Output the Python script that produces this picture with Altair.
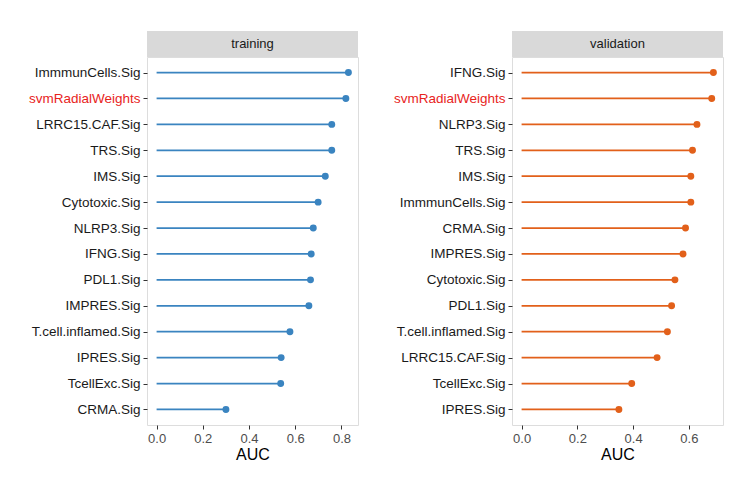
import altair as alt
import pandas as pd

train_sig = ["ImmmunCells.Sig", "svmRadialWeights", "LRRC15.CAF.Sig", "TRS.Sig", "IMS.Sig",
             "Cytotoxic.Sig", "NLRP3.Sig", "IFNG.Sig", "PDL1.Sig", "IMPRES.Sig",
             "T.cell.inflamed.Sig", "IPRES.Sig", "TcellExc.Sig", "CRMA.Sig"]
train_auc = [0.830, 0.819, 0.758, 0.758, 0.730, 0.699, 0.678, 0.669, 0.666, 0.659,
             0.577, 0.539, 0.537, 0.300]

valid_sig = ["IFNG.Sig", "svmRadialWeights", "NLRP3.Sig", "TRS.Sig", "IMS.Sig",
             "ImmmunCells.Sig", "CRMA.Sig", "IMPRES.Sig", "Cytotoxic.Sig", "PDL1.Sig",
             "T.cell.inflamed.Sig", "LRRC15.CAF.Sig", "TcellExc.Sig", "IPRES.Sig"]
valid_auc = [0.688, 0.682, 0.629, 0.613, 0.607, 0.607, 0.588, 0.579, 0.550, 0.538,
             0.523, 0.486, 0.395, 0.349]

train_ticks = [0.0, 0.2, 0.4, 0.6, 0.8]
valid_ticks = [0.0, 0.2, 0.4, 0.6]

W = 211
H = 368
STRIP = 26
FONT = "Liberation Sans"


def panel(sigs, aucs, ticks, color, label):
    df = pd.DataFrame({"sig": sigs, "auc": aucs, "zero": [0.0] * len(sigs)})
    hi = max(aucs)
    pad = hi * 0.05
    xs = alt.Scale(domain=[-pad, hi + pad], nice=False, zero=False)
    ys = alt.Scale(type="point", padding=0.6)
    xaxis = alt.Axis(values=ticks, format=".1f", title="AUC", grid=False, domain=False,
                     tickColor="#333333", tickSize=4, labelColor="#4D4D4D",
                     labelFontSize=13, labelFont=FONT, labelPadding=3,
                     titleFont=FONT, titleFontSize=16, titleFontWeight="normal",
                     titleColor="#000000", titlePadding=1)
    yaxis = alt.Axis(title=None, grid=False, domain=False, tickColor="#333333", tickSize=4,
                     labelFontSize=13.5, labelFont=FONT, labelPadding=3,
                     labelColor={"condition": {"test": "datum.value == 'svmRadialWeights'",
                                               "value": "#E8231C"},
                                 "value": "#1A1A1A"})
    y = alt.Y("sig:N", sort=sigs, scale=ys, axis=yaxis)
    base = alt.Chart(df)
    rule = base.mark_rule(color=color, strokeWidth=1.8).encode(
        x=alt.X("zero:Q", scale=xs, axis=xaxis), x2="auc:Q", y=y)
    pts = base.mark_circle(color=color, size=48, opacity=1).encode(
        x=alt.X("auc:Q", scale=xs, axis=xaxis), y=y)
    sdf = pd.DataFrame({"t": [label]})
    strip = alt.Chart(sdf).mark_rect(fill="#D9D9D9").encode(
        x=alt.value(0), x2=alt.value(W), y=alt.value(-STRIP), y2=alt.value(0))
    stext = alt.Chart(sdf).mark_text(font=FONT, fontSize=13, color="#1A1A1A",
                                     baseline="middle", align="center").encode(
        text="t:N", x=alt.value(W / 2), y=alt.value(-STRIP / 2))
    return alt.layer(strip, stext, rule, pts).properties(width=W, height=H)


left = panel(train_sig, train_auc, train_ticks, "#3A84C0", "training")
right = panel(valid_sig, valid_auc, valid_ticks, "#E2601A", "validation")

chart = alt.hconcat(left, right, spacing=33).resolve_scale(
    x="independent", y="independent"
).properties(
    padding={"left": 19, "top": 22, "right": 5, "bottom": 5}
).configure_view(
    stroke="#4D4D4D", strokeWidth=1, fill="white"
).configure(background="white")

chart.save("out.html", embed_options={"renderer": "svg", "actions": False})
